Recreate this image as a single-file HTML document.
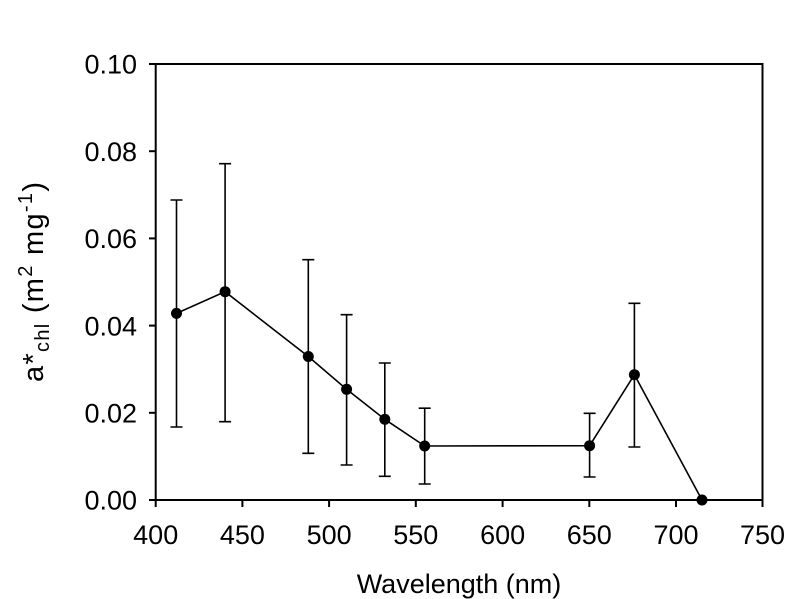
<!DOCTYPE html>
<html>
<head>
<meta charset="utf-8">
<style>
  html, body { margin: 0; padding: 0; background: #fff; }
  svg { display: block; }
  text { font-family: "Liberation Sans", Arial, sans-serif; fill: #000; }
</style>
</head>
<body>
<svg width="796" height="599" viewBox="0 0 796 599" xmlns="http://www.w3.org/2000/svg">
  <rect width="796" height="599" fill="#fff"/>
  <!-- axes frame -->
  <rect x="155.7" y="64" width="606.8" height="436" fill="none" stroke="#000" stroke-width="2"/>
  <!-- y ticks -->
  <g stroke="#000" stroke-width="2">
    <line x1="149" y1="500" x2="156" y2="500"/>
    <line x1="149" y1="412.8" x2="156" y2="412.8"/>
    <line x1="149" y1="325.6" x2="156" y2="325.6"/>
    <line x1="149" y1="238.4" x2="156" y2="238.4"/>
    <line x1="149" y1="151.2" x2="156" y2="151.2"/>
    <line x1="149" y1="64" x2="156" y2="64"/>
  </g>
  <!-- x ticks -->
  <g stroke="#000" stroke-width="2">
    <line x1="155.7" y1="500" x2="155.7" y2="507"/>
    <line x1="242.4" y1="500" x2="242.4" y2="507"/>
    <line x1="329.1" y1="500" x2="329.1" y2="507"/>
    <line x1="415.8" y1="500" x2="415.8" y2="507"/>
    <line x1="502.6" y1="500" x2="502.6" y2="507"/>
    <line x1="589.3" y1="500" x2="589.3" y2="507"/>
    <line x1="676" y1="500" x2="676" y2="507"/>
    <line x1="762.5" y1="500" x2="762.5" y2="507"/>
  </g>
  <!-- y tick labels -->
  <g font-size="27" text-anchor="end">
    <text x="137" y="509.7">0.00</text>
    <text x="137" y="422.5">0.02</text>
    <text x="137" y="335.3">0.04</text>
    <text x="137" y="248.1">0.06</text>
    <text x="137" y="160.9">0.08</text>
    <text x="137" y="73.7">0.10</text>
  </g>
  <!-- x tick labels -->
  <g font-size="27" text-anchor="middle">
    <text x="155.7" y="544">400</text>
    <text x="242.4" y="544">450</text>
    <text x="329.1" y="544">500</text>
    <text x="415.8" y="544">550</text>
    <text x="502.6" y="544">600</text>
    <text x="589.3" y="544">650</text>
    <text x="676" y="544">700</text>
    <text x="762.5" y="544">750</text>
  </g>
  <!-- x axis title -->
  <text x="459" y="593" font-size="27" text-anchor="middle">Wavelength (nm)</text>
  <!-- y axis title -->
  <text transform="translate(43,282) rotate(-90)" font-size="29" text-anchor="middle" textLength="200" lengthAdjust="spacing">a*<tspan font-size="20" dy="6">chl</tspan><tspan dy="-6"> (m</tspan><tspan font-size="20" dy="-11">2</tspan><tspan dy="11"> mg</tspan><tspan font-size="20" dy="-11">-1</tspan><tspan dy="11">)</tspan></text>

  <!-- error bars -->
  <g stroke="#000" stroke-width="1.6" fill="none">
    <path d="M176.5 200 V427 M170.5 200 H182.5 M170.5 427 H182.5"/>
    <path d="M225.1 163.7 V421.7 M219.1 163.7 H231.1 M219.1 421.7 H231.1"/>
    <path d="M308.3 259.7 V453.3 M302.3 259.7 H314.3 M302.3 453.3 H314.3"/>
    <path d="M346.6 314.7 V465 M340.6 314.7 H352.6 M340.6 465 H352.6"/>
    <path d="M384.8 363 V476.3 M378.8 363 H390.8 M378.8 476.3 H390.8"/>
    <path d="M424.7 408.2 V484 M418.7 408.2 H430.7 M418.7 484 H430.7"/>
    <path d="M589.6 413.3 V477 M583.6 413.3 H595.6 M583.6 477 H595.6"/>
    <path d="M634.4 303.3 V447 M628.4 303.3 H640.4 M628.4 447 H640.4"/>
  </g>
  <!-- line -->
  <polyline fill="none" stroke="#000" stroke-width="1.6"
    points="176.5,313.4 225.1,291.7 308.3,356.5 346.6,389.3 384.8,419.3 424.7,446 589.6,445.7 634.4,374.7 702,500"/>
  <!-- markers -->
  <g fill="#000">
    <circle cx="176.5" cy="313.4" r="5.5"/>
    <circle cx="225.1" cy="291.7" r="5.5"/>
    <circle cx="308.3" cy="356.5" r="5.5"/>
    <circle cx="346.6" cy="389.3" r="5.5"/>
    <circle cx="384.8" cy="419.3" r="5.5"/>
    <circle cx="424.7" cy="446" r="5.5"/>
    <circle cx="589.6" cy="445.7" r="5.5"/>
    <circle cx="634.4" cy="374.7" r="5.5"/>
    <circle cx="702" cy="500" r="5.5"/>
  </g>
</svg>
</body>
</html>
